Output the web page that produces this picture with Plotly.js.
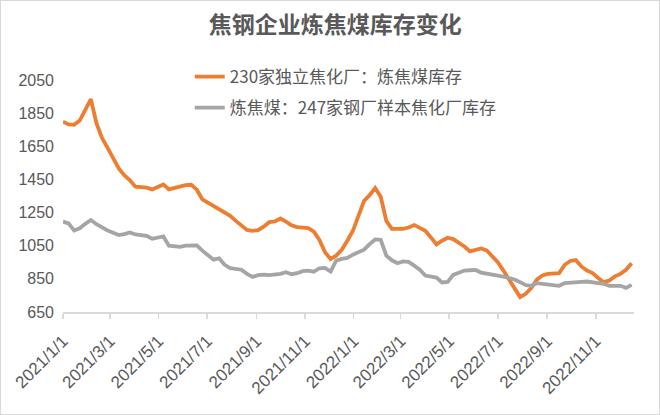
<!DOCTYPE html>
<html>
<head>
<meta charset="utf-8">
<script src="https://cdn.plot.ly/plotly-3.0.1.min.js"></script>
<style>
html,body{margin:0;padding:0;background:#fff;}
#wrap{width:660px;height:415px;box-sizing:border-box;border:1px solid #d9d9d9;}
#chart{width:658px;height:413px;}
</style>
</head>
<body>
<div id="wrap"><div id="chart"></div></div>
<script>
var dates = [
"2021-01-01","2021-01-08","2021-01-15","2021-01-22","2021-01-29","2021-02-05","2021-02-12","2021-02-19","2021-02-26",
"2021-03-05","2021-03-12","2021-03-19","2021-03-26","2021-04-02","2021-04-09","2021-04-16","2021-04-23","2021-04-30",
"2021-05-07","2021-05-14","2021-05-21","2021-05-28","2021-06-04","2021-06-11","2021-06-18","2021-06-25",
"2021-07-02","2021-07-09","2021-07-16","2021-07-23","2021-07-30","2021-08-06","2021-08-13","2021-08-20","2021-08-27",
"2021-09-03","2021-09-10","2021-09-17","2021-09-24","2021-10-01","2021-10-08","2021-10-15","2021-10-22","2021-10-29",
"2021-11-05","2021-11-12","2021-11-19","2021-11-26","2021-12-03","2021-12-10","2021-12-17","2021-12-24","2021-12-31",
"2022-01-07","2022-01-14","2022-01-21","2022-01-28","2022-02-04","2022-02-11","2022-02-18","2022-02-25",
"2022-03-04","2022-03-11","2022-03-18","2022-03-25","2022-04-01","2022-04-08","2022-04-15","2022-04-22","2022-04-29",
"2022-05-06","2022-05-13","2022-05-20","2022-05-27","2022-06-03","2022-06-10","2022-06-17","2022-06-24",
"2022-07-01","2022-07-08","2022-07-15","2022-07-22","2022-07-29","2022-08-05","2022-08-12","2022-08-19","2022-08-26",
"2022-09-02","2022-09-09","2022-09-16","2022-09-23","2022-09-30","2022-10-07","2022-10-14","2022-10-21","2022-10-28",
"2022-11-04","2022-11-11","2022-11-18","2022-11-25","2022-12-02","2022-12-09","2022-12-16"
];
var coking230 = [
1798,1782,1780,1805,1870,1935,1790,1700,1640,
1575,1517,1475,1445,1406,1404,1400,1390,1405,
1420,1390,1400,1410,1416,1418,1388,1330,
1310,1290,1265,1250,1230,1200,1172,1145,1140,
1144,1165,1192,1196,1214,1195,1173,1162,1158,
1156,1135,1085,1010,970,990,1025,1080,1140,
1230,1320,1355,1398,1345,1200,1152,1150,
1152,1160,1175,1158,1140,1100,1058,1080,1098,
1090,1070,1045,1016,1025,1034,1022,985,
950,900,845,790,740,760,795,845,870,
880,882,885,935,958,963,925,900,885,
855,830,840,865,880,905,944
];
var steel247 = [
1195,1185,1142,1155,1182,1205,1180,1160,1142,
1128,1114,1120,1130,1118,1114,1110,1092,1100,
1106,1050,1046,1043,1050,1052,1052,1020,
996,966,974,935,915,911,905,880,862,
872,875,872,876,880,890,878,884,896,
900,893,914,916,894,960,970,976,996,
1010,1026,1060,1088,1086,990,962,944,
955,952,930,905,870,864,858,828,832,
874,888,900,902,904,888,883,878,
872,864,855,846,830,812,808,824,820,
815,812,808,825,829,830,832,834,831,
828,820,808,808,808,796,814
];
var tickDates = ["2021-01-01","2021-03-01","2021-05-01","2021-07-01","2021-09-01","2021-11-01",
"2022-01-01","2022-03-01","2022-05-01","2022-07-01","2022-09-01","2022-11-01"];
var tickLabels = ["2021/1/1","2021/3/1","2021/5/1","2021/7/1","2021/9/1","2021/11/1",
"2022/1/1","2022/3/1","2022/5/1","2022/7/1","2022/9/1","2022/11/1"];
var yTicks = [650,850,1050,1250,1450,1650,1850,2050];
var name1 = "230家独立焦化厂：炼焦煤库存";
var name2 = "炼焦煤：247家钢厂样本焦化厂库存";

var font = "Noto Sans CJK SC, Liberation Sans, sans-serif";
var txt = "#595959";

var traces = [
  {x: dates, y: coking230, type: "scatter", mode: "lines", name: name1,
   line: {color: "#ED7D31", width: 3.8}, legend: "legend"},
  {x: dates, y: steel247, type: "scatter", mode: "lines", name: name2,
   line: {color: "#A5A5A5", width: 3.8}, legend: "legend2"}
];
var layout = {
  width: 658, height: 413,
  margin: {l: 62, r: 25, t: 79, b: 102},
  paper_bgcolor: "#fff", plot_bgcolor: "#fff",
  font: {family: font, color: txt, size: 14},
  title: {text: "<b>焦钢企业炼焦煤库存变化</b>", x: 0.508, xref: "container", xanchor: "center",
          y: 0.943, yref: "container", yanchor: "middle",
          font: {family: font, size: 23, color: txt}},
  showlegend: true,
  legend: {x: 0.222, y: 1.013, xanchor: "left", yanchor: "middle", bgcolor: "rgba(0,0,0,0)",
           font: {family: font, size: 17, color: txt}},
  legend2: {x: 0.222, y: 0.879, xanchor: "left", yanchor: "middle", bgcolor: "rgba(0,0,0,0)",
           font: {family: font, size: 17, color: txt}},
  xaxis: {type: "date", range: ["2021-01-01", "2022-12-19"], tickmode: "array",
          tickvals: tickDates, ticktext: tickLabels, tickangle: -45,
          showgrid: false, zeroline: false, showline: true, linecolor: "#d9d9d9", linewidth: 1.5,
          ticks: "outside", ticklen: 5, tickcolor: "#d9d9d9", tickwidth: 1.5, ticklabelstandoff: 6,
          tickfont: {family: "Liberation Sans, sans-serif", size: 17, color: txt}},
  yaxis: {range: [650, 2050], tickmode: "array", tickvals: yTicks, showgrid: false, zeroline: false,
          showline: false, ticks: "", ticklabelstandoff: 8,
          tickfont: {family: "Liberation Sans, sans-serif", size: 16, color: txt}}
};
Plotly.newPlot("chart", traces, layout, {displayModeBar: false, staticPlot: true});
</script>
</body>
</html>
